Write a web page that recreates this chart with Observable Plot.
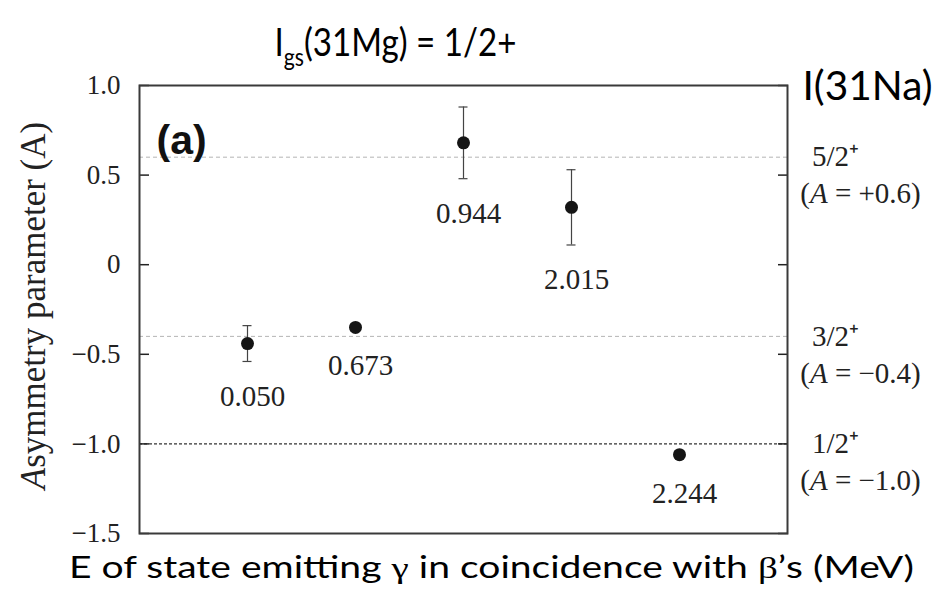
<!DOCTYPE html>
<html><head><meta charset="utf-8">
<script src="https://cdn.jsdelivr.net/npm/d3@7"></script>
<script src="https://cdn.jsdelivr.net/npm/@observablehq/plot@0.6"></script>
<style>body{margin:0;background:#fff}</style>
</head><body><div id="chart"></div>
<script>
// ---- data ----
const energies = ["0.050", "0.673", "0.944", "2.015", "2.244"];
const asym = [-0.44, -0.35, 0.68, 0.32, -1.06];
const errs = [0.10, 0.02, 0.20, 0.21, 0.02];
const spins = ["5/2⁺", "3/2⁺", "1/2⁺"];
const refA = [0.6, -0.4, -1.0];
const refText = ["(A = +0.6)", "(A = −0.4)", "(A = −1.0)"];
const yTicks = [1.0, 0.5, 0, -0.5, -1.0, -1.5];
const title = "Igs(31Mg) = 1/2+";
const rightTitle = "I(31Na)";
const xTitle = "E of state emitting γ in coincidence with β’s (MeV)";
const yTitle = "Asymmetry parameter (A)";
const panel = "(a)";

const pts = energies.map((e, i) => ({e, x: i + 1, y: asym[i], lo: asym[i] - errs[i], hi: asym[i] + errs[i]}));
const refs = refA.map((a, i) => ({a, spin: spins[i], t: refText[i]}));
const serif = "'Liberation Serif','Times New Roman',serif";
const sans = "Lato,'Open Sans',sans-serif";
const fmt = d => d === 0 ? "0" : d3.format(".1f")(d);

const plot = Plot.plot({
  width: 941, height: 592,
  marginLeft: 139, marginRight: 154, marginTop: 85, marginBottom: 59,
  x: {domain: [0, 6], axis: null},
  y: {domain: [-1.5, 1.0], axis: null},
  style: {background: "#fff", color: "#222"},
  marks: [
    Plot.ruleY(refA.slice(0, 2), {stroke: "#b4b4b4", strokeDasharray: "4,3", strokeWidth: 1}),
    Plot.ruleY(refA.slice(2), {stroke: "#333", strokeDasharray: "3,2", strokeWidth: 1.2}),
    Plot.axisY(yTicks, {anchor: "left", tickSize: -10, tickPadding: 29, fontSize: 27, fontFamily: serif, label: null, tickFormat: fmt, strokeWidth: 1.5}),
    Plot.axisY(yTicks, {anchor: "right", tickSize: -10, label: null, tickFormat: () => "", strokeWidth: 1.5}),
    Plot.frame({stroke: "#3a3a3a", strokeWidth: 2}),
    Plot.ruleX(pts, {x: "x", y1: "lo", y2: "hi", stroke: "#444", strokeWidth: 1.2}),
    Plot.ruleY(pts, {y: "hi", x1: "x", x2: "x", insetLeft: -4.5, insetRight: -4.5, stroke: "#444", strokeWidth: 1.2}),
    Plot.ruleY(pts, {y: "lo", x1: "x", x2: "x", insetLeft: -4.5, insetRight: -4.5, stroke: "#444", strokeWidth: 1.2}),
    Plot.dot(pts, {x: "x", y: "y", r: 6.5, fill: "#151515", stroke: "none"}),
    Plot.text(pts, {x: "x", y: "lo", text: "e", dy: 35, dx: 5, fontSize: 29, fontFamily: serif, fill: "#222"}),
    Plot.text(refs, {y: "a", frameAnchor: "right", textAnchor: "middle", text: "spin", dx: 48, dy: 0, fontSize: 29, fontFamily: serif, fill: "#222"}),
    Plot.text(refs, {y: "a", frameAnchor: "right", textAnchor: "middle", text: "t", dx: 73, dy: 37, fontSize: 29, fontFamily: serif, fill: "#222"}),
    Plot.text([panel], {frameAnchor: "top-left", dx: 17, dy: 39, textAnchor: "start", fontSize: 41, fontWeight: "bold", fontFamily: "'Liberation Sans',Arial,sans-serif", fill: "#111"}),
    Plot.text([yTitle], {frameAnchor: "left", textAnchor: "middle", dx: -106, dy: -4, rotate: -90, fontSize: 35, fontFamily: serif, fill: "#222"}),
    Plot.text([title], {frameAnchor: "top", textAnchor: "middle", dx: -68, dy: -56, fontSize: 38, fontFamily: sans, fill: "#000"}),
    Plot.text([rightTitle], {frameAnchor: "top-right", dx: 15, dy: -14, textAnchor: "start", fontSize: 40, fontFamily: sans, fill: "#000"}),
    Plot.text([xTitle], {frameAnchor: "bottom", textAnchor: "middle", dx: 28, dy: 44, fontSize: 30, fontFamily: sans, fill: "#000"})
  ]
});

// rich-text touches (sub/superscripts, italics) and widths matched to the reference
d3.select(plot).selectAll("text").each(function () {
  const s = this.textContent;
  const el = d3.select(this);
  if (s === title) {
    el.text("");
    el.append("tspan").text("I");
    el.append("tspan").attr("font-size", "0.64em").attr("dy", 10).text("gs");
    el.append("tspan").attr("dy", -10).text("(31Mg) = 1/2+");
    el.attr("textLength", 242).attr("lengthAdjust", "spacingAndGlyphs");
  } else if (s === rightTitle) {
    el.attr("textLength", 130).attr("lengthAdjust", "spacingAndGlyphs");
  } else if (refText.includes(s) || s === yTitle) {
    const k = s.indexOf("A");
    el.text("");
    el.append("tspan").text(s.slice(0, k));
    el.append("tspan").attr("font-style", "italic").text("A");
    el.append("tspan").text(s.slice(k + 1));
  } else if (s === xTitle) {
    el.text("");
    const parts = s.split(/([γβ])/);
    for (const p of parts) {
      const t = el.append("tspan").text(p);
      if (p === "γ" || p === "β") t.attr("font-family", serif);
    }
    el.attr("textLength", 845).attr("lengthAdjust", "spacingAndGlyphs");
  }
});

document.getElementById("chart").appendChild(plot);
</script>
</body></html>
